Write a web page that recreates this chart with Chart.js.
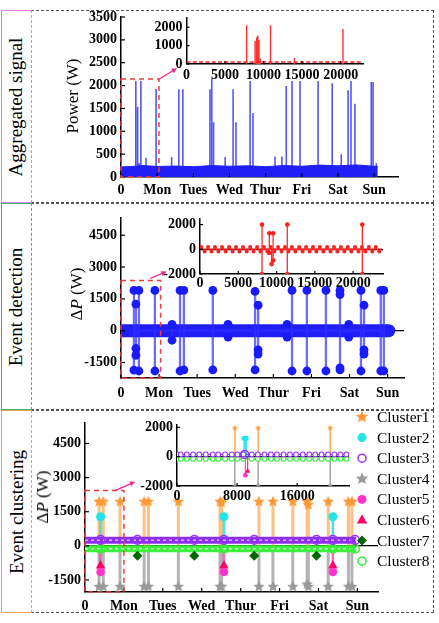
<!DOCTYPE html>
<html>
<head>
<meta charset="utf-8">
<title>Aggregated signal / Event detection / Event clustering</title>
<script src="https://cdn.jsdelivr.net/npm/chart.js@4.4.1/dist/chart.umd.min.js"></script>
<style>
  body { margin: 0; background: #fff; }
  #page { position: relative; width: 439px; height: 623px; overflow: hidden; font-family: "Liberation Serif", "Times New Roman", serif; }
  #page canvas { position: absolute; }
  .panel { position: absolute; left: 31px; width: 403px; box-sizing: border-box; border: 1px dashed #555; }
  .side { position: absolute; left: 1px; width: 31px; box-sizing: border-box; border: 1px solid; border-right-style: dashed; background: #fff; display: flex; align-items: center; justify-content: center; }
  .side span { display: block; transform: rotate(-90deg); white-space: nowrap; font-size: 19px; }
  .yt { position: absolute; transform: translate(-50%, -50%) rotate(-90deg); white-space: nowrap; font-size: 17px; }
</style>
</head>
<body>
<div id="page">
  <div class="panel" style="top:10px;height:193px"></div>
  <div class="panel" style="top:203px;height:207px"></div>
  <div class="panel" style="top:410px;height:203px"></div>
  <div class="side" style="top:10px;height:193px;border-color:#e37ee3"><span>Aggregated signal</span></div>
  <div class="side" style="top:203px;height:207px;border-color:#3cb371"><span>Event detection</span></div>
  <div class="side" style="top:410px;height:203px;border-color:#e8a060"><span>Event clustering</span></div>

  <canvas id="aggMain" width="400" height="197" style="left:32px;top:4px"></canvas>
  <canvas id="aggZoom" width="240" height="80" style="left:130px;top:5px"></canvas>
  <canvas id="detMain" width="400" height="203" style="left:32px;top:205px"></canvas>
  <canvas id="detZoom" width="250" height="84" style="left:140px;top:206px"></canvas>
  <canvas id="cluMain" width="401" height="208" style="left:32px;top:405px"></canvas>
  <canvas id="cluZoom" width="240" height="90" style="left:115px;top:412px"></canvas>

  <div class="yt" style="left:73px;top:96px">Power (W)</div>
  <div class="yt" style="left:77px;top:294px">Δ<i>P</i> (W)</div>
  <div class="yt" style="left:43px;top:497px">Δ<i>P</i> (W)</div>
</div>

<script>
// ---- data ----
const dayLabels = ['0', 'Mon', 'Tues', 'Wed', 'Thur', 'Fri', 'Sat', 'Sun'];
const dayTicks = [0, 1, 2, 3, 4, 5, 6, 7];

// aggregated signal (W), x in days
const aggBandX = [0, 0.3, 0.6, 1.0, 1.5, 2.0, 2.5, 3.0, 3.5, 4.0, 4.5, 5.0, 5.5, 6.0, 6.5, 7.1];
const aggBandY = [220, 230, 250, 230, 240, 225, 250, 235, 245, 225, 250, 235, 260, 245, 265, 230];
const aggSpikeX = [0.41, 0.46, 0.50, 0.55, 0.69, 0.97, 1.40, 1.60, 1.71, 2.46, 2.51, 2.56, 2.88, 3.10, 3.18,
                   3.57, 3.65, 4.26, 4.45, 4.57, 4.73, 4.95, 5.45, 5.84, 6.09, 6.28, 6.36, 6.47, 6.92, 6.97, 7.06];
const aggSpikeY = [2100, 1530, 300, 2100, 420, 1925, 440, 1920, 1920, 1920, 2150, 1200, 440, 1920, 1200,
                   2100, 1400, 450, 450, 1990, 2100, 2100, 2100, 2050, 500, 1900, 2100, 1600, 2080, 2080, 300];
// zoom on the first day, x in samples
const aggZoomBaseX = [0, 22800];
const aggZoomBaseY = [110, 110];
const aggZoomX = [7800, 8900, 9100, 9250, 9400, 9600, 10900, 14000, 20300];
const aggZoomY = [2100, 1250, 1450, 1550, 1300, 300, 2100, 330, 1900];

// event detection (W), x in days
const detBandX = [0, 7.03];
const detBandY = [0, 0];
const detX = [0.34, 0.39, 0.47, 0.89, 1.34, 1.55, 1.65, 2.41, 2.81, 3.52, 3.60, 4.36, 4.49, 4.88, 5.38, 5.75, 5.98, 6.30, 6.38, 6.82, 6.90];
const detV = [[1900, -1860], [1250, -840, -1160], [1900, -1900], [1900, -1900], [300, -450], [1900, -1900], [1900, -1850],
              [1900, -1850], [300, -300], [1850, -1850], [1200, -900, -1100], [300, -300], [1900, -1900], [1900, -1900],
              [1900, -1900], [1900, 1700, -1750, -1850], [300, -300], [1900, -1900], [1200, -900, -1100], [1900, -1900], [1900, -1900]];
const detZoomX = [8100, 9050, 9350, 9550, 11400, 21200];
const detZoomV = [[2000, -2000], [1300, -300], [-1200], [1300, -900], [2000, -2000], [2000, -2000]];
const detZoomOnX = [150, 1050, 1950, 2880, 3800, 4700, 5620, 6550, 7450, 8350, 9250, 10200, 11100, 12000, 12950,
                    13850, 14750, 15650, 16600, 17500, 18400, 19300, 20250, 21150, 22050, 22950];
const detZoomOffX = [600, 1500, 2400, 3350, 4250, 5150, 6100, 7000, 7900, 8800, 9700, 10650, 11550, 12450, 13400,
                     14300, 15200, 16100, 17050, 17950, 18850, 19750, 20700, 21600, 22500, 23400];
const detZoomOnY = 180;
const detZoomOffY = -180;

// event clustering (W), x in days
const clusterNames = ['Cluster1', 'Cluster2', 'Cluster3', 'Cluster4', 'Cluster5', 'Cluster6', 'Cluster7', 'Cluster8'];
const c1X = [0.36, 0.47, 0.90, 1.52, 1.63, 2.40, 3.47, 3.51, 4.47, 4.83, 5.34, 5.71, 5.74, 6.25, 6.77, 6.86];
const c1Y = [1940, 1940, 1940, 1940, 1940, 1940, 1940, 1900, 1940, 1940, 1940, 1940, 1800, 1940, 1940, 1940];
const c4Y = [-1800, -1800, -1800, -1800, -1800, -1800, -1800, -1800, -1800, -1800, -1800, -1700, -1800, -1800, -1800, -1800];
const c2X = [0.40, 3.57, 6.37];
const c2Y = [1280, 1280, 1280];
const c5Y = [-1150, -1150, -1150];
const c6Y = [-880, -880, -880];
const c3X = [0.40, 1.35, 2.81, 3.57, 4.35, 5.95, 6.37, 6.94];
const c3Y = [260, 260, 260, 260, 260, 260, 260, 260];
const c7X = [1.35, 2.81, 4.35, 5.95];
const c7Y = [-440, -440, -440, -440];
const c8X = [0.40, 3.57, 6.37, 6.94];
const c8Y = [-130, -130, -130, -130];
const c3BandX = [0, 6.97], c3BandY = [250, 250];
const c8BandX = [0, 6.97], c8BandY = [-130, -130];
// zoom on the first day, x in samples
const cz1X = [7700, 10800, 20400], cz1Y = [1950, 1950, 1950], cz4Y = [-2000, -2000, -2000];
const cz2X = [8950, 9200], cz2Y = [1250, 1250];
const cz5X = [9100], cz5Y = [-1270];
const cz6X = [9400], cz6Y = [-1000];
const cz3X = [9000], cz3Y = [150];
const czBaseX = [0, 500, 1300, 2150, 2970, 3830, 4750, 5500, 6400, 7300, 8050, 8850, 9950, 10750, 11650, 12500,
                 13300, 14200, 15050, 15850, 16750, 17600, 18400, 19250, 20100, 20950, 21750, 22550];
const czOnY = 150, czOffY = -150;

// ---- helpers ----
const FONT = '"Liberation Serif", "Times New Roman", Times, serif';
Chart.defaults.font.family = FONT;
Chart.defaults.color = '#000';

const COL = { c1: '#ff9933', c2: '#22e5e5', c3: '#9933ff', c4: '#999999', c5: '#ff33cc', c6: '#ff0066', c7: '#006600', c8: '#33ee33' };

function markerPath(ctx, style, x, y, r) {
  ctx.beginPath();
  if (style === 'star') {
    for (let i = 0; i < 10; i++) {
      const a = -Math.PI / 2 + i * Math.PI / 5;
      const rr = i % 2 ? r * 0.45 : r;
      ctx.lineTo(x + rr * Math.cos(a), y + rr * Math.sin(a));
    }
  } else if (style === 'triangle') {
    ctx.moveTo(x, y - r); ctx.lineTo(x + r * 0.95, y + r * 0.65); ctx.lineTo(x - r * 0.95, y + r * 0.65);
  } else if (style === 'diamond') {
    ctx.moveTo(x, y - r); ctx.lineTo(x + r, y); ctx.lineTo(x, y + r); ctx.lineTo(x - r, y);
  } else {
    ctx.arc(x, y, r, 0, Math.PI * 2);
  }
  ctx.closePath();
}

function drawMarker(ctx, style, x, y, r, color, filled) {
  markerPath(ctx, style, x, y, r);
  if (filled) { ctx.fillStyle = color; ctx.fill(); }
  else { ctx.strokeStyle = color; ctx.lineWidth = 1.5; ctx.stroke(); }
}

function starImg(color, r) {
  const c = document.createElement('canvas');
  c.width = c.height = Math.ceil(r * 2 + 2);
  drawMarker(c.getContext('2d'), 'star', c.width / 2, c.height / 2, r, color, true);
  return c;
}

const legendItems = [
  { style: 'star', color: COL.c1, filled: true, r: 6.5 },
  { style: 'circle', color: COL.c2, filled: true, r: 4.5 },
  { style: 'circle', color: COL.c3, filled: false, r: 4 },
  { style: 'star', color: COL.c4, filled: true, r: 6.5 },
  { style: 'circle', color: COL.c5, filled: true, r: 4.5 },
  { style: 'triangle', color: COL.c6, filled: true, r: 5.5 },
  { style: 'diamond', color: COL.c7, filled: true, r: 5 },
  { style: 'circle', color: COL.c8, filled: false, r: 4 }
];

function stemData(xs, ys) {
  const pts = [];
  xs.forEach((x, i) => pts.push({ x, y: 0 }, { x, y: ys[i] }, { x, y: null }));
  return pts;
}
function pointData(xs, ys) {
  return xs.map((x, i) => ({ x, y: Array.isArray(ys) ? ys[i] : ys }));
}
function chainData(xs, vs) {
  const pts = [];
  xs.forEach((x, i) => {
    pts.push({ x, y: 0 });
    vs[i].forEach(v => pts.push({ x, y: v }));
    pts.push({ x, y: 0 });
  });
  return pts;
}

function line(data, color, width, extra) {
  return Object.assign({ data, borderColor: color, borderWidth: width, pointRadius: 0, spanGaps: false, fill: false }, extra || {});
}
function marks(data, style, color, r, filled, extra) {
  return Object.assign({
    data, showLine: false, pointStyle: style, pointRadius: r,
    pointBackgroundColor: filled ? color : 'rgba(0,0,0,0)', pointBorderColor: color, pointBorderWidth: filled ? 0 : 1.5
  }, extra || {});
}

// inward tick marks
const inTicks = {
  id: 'inTicks',
  afterDatasetsDraw(chart, args, o) {
    if (!o.len) return;
    const { ctx, chartArea: a, scales } = chart;
    ctx.save();
    ctx.strokeStyle = '#000';
    ctx.lineWidth = 1.2;
    scales.y.ticks.forEach(t => {
      const y = scales.y.getPixelForValue(t.value);
      ctx.beginPath(); ctx.moveTo(a.left, y); ctx.lineTo(a.left + o.len, y); ctx.stroke();
    });
    scales.x.ticks.forEach(t => {
      const x = scales.x.getPixelForValue(t.value);
      ctx.beginPath(); ctx.moveTo(x, a.bottom); ctx.lineTo(x, a.bottom - o.len); ctx.stroke();
    });
    ctx.restore();
  }
};

// red dashed zoom box + arrow toward the inset
const zoomBox = {
  id: 'zoomBox',
  afterDatasetsDraw(chart, args, o) {
    if (!o.box) return;
    const { ctx, scales: { x, y } } = chart;
    const x0 = x.getPixelForValue(o.box[0]), x1 = x.getPixelForValue(o.box[1]);
    const y0 = y.getPixelForValue(o.box[2]), y1 = y.getPixelForValue(o.box[3]);
    ctx.save();
    ctx.setLineDash([5, 4]);
    ctx.strokeStyle = '#f03c3c';
    ctx.lineWidth = 1.5;
    ctx.strokeRect(x0, y1, x1 - x0, y0 - y1);
    ctx.setLineDash([]);
    const ax = x.getPixelForValue(o.arrow[0]), ay = y.getPixelForValue(o.arrow[1]);
    const bx = x.getPixelForValue(o.arrow[2]), by = y.getPixelForValue(o.arrow[3]);
    const ang = Math.atan2(by - ay, bx - ax);
    ctx.strokeStyle = ctx.fillStyle = '#f0288c';
    ctx.lineWidth = 1.3;
    ctx.beginPath(); ctx.moveTo(ax, ay); ctx.lineTo(bx - 4 * Math.cos(ang), by - 4 * Math.sin(ang)); ctx.stroke();
    ctx.beginPath();
    ctx.moveTo(bx, by);
    ctx.lineTo(bx - 6 * Math.cos(ang - 0.45), by - 6 * Math.sin(ang - 0.45));
    ctx.lineTo(bx - 6 * Math.cos(ang + 0.45), by - 6 * Math.sin(ang + 0.45));
    ctx.closePath(); ctx.fill();
    ctx.restore();
  }
};

// cluster legend, drawn at the right of the clustering chart
const clusterLegend = {
  id: 'clusterLegend',
  afterDraw(chart, args, o) {
    if (!o.on) return;
    const ctx = chart.ctx;
    ctx.save();
    ctx.font = '15.5px ' + FONT;
    ctx.textBaseline = 'middle';
    legendItems.forEach((it, i) => {
      const y = o.top + i * o.step;
      drawMarker(ctx, it.style, o.mx, y, it.r, it.color, it.filled);
      ctx.fillStyle = '#000';
      ctx.fillText(clusterNames[i], o.tx, y + 1);
    });
    ctx.restore();
  }
};

function scaleOpts(o) {
  const tickFont = { family: FONT, size: 14, weight: 'bold' };
  return {
    x: {
      type: 'linear', min: o.x[0], max: o.x[1],
      afterFit: s => { s.height = o.xh; },
      afterBuildTicks: s => { s.ticks = o.xt.map(v => ({ value: v })); },
      ticks: { font: tickFont, color: '#000', padding: o.xpad, maxRotation: 0, autoSkip: false,
               callback: v => (o.xl ? o.xl[v] : String(v)) },
      grid: { display: false, drawTicks: false },
      border: { color: '#000', width: 1.5 }
    },
    y: {
      type: 'linear', min: o.y[0], max: o.y[1],
      afterFit: s => { s.width = o.yw; },
      afterBuildTicks: s => { s.ticks = o.yt.map(v => ({ value: v })); },
      ticks: { font: tickFont, color: '#000', padding: 4, callback: v => String(v) },
      grid: { drawTicks: false, lineWidth: 1.2,
              color: c => (o.zero && c.tick && c.tick.value === 0) ? '#000' : 'rgba(0,0,0,0)' },
      border: { color: '#000', width: 1.5 }
    }
  };
}

function makeChart(id, o, datasets, pluginOpts) {
  return new Chart(document.getElementById(id), {
    type: 'line',
    data: { datasets },
    options: {
      responsive: false,
      animation: false,
      devicePixelRatio: 1,
      layout: { padding: o.pad },
      scales: scaleOpts(o),
      elements: { line: { tension: 0 } },
      events: [],
      plugins: Object.assign({ legend: { display: false }, tooltip: { enabled: false } }, pluginOpts || {})
    },
    plugins: [inTicks, zoomBox, clusterLegend]
  });
}

// ---- panel 1: aggregated signal ----
makeChart('aggMain', {
  x: [0, 7.66], xt: dayTicks, xl: dayLabels, xh: 24, xpad: 5,
  y: [0, 3500], yt: [0, 500, 1000, 1500, 2000, 2500, 3000, 3500], yw: 89,
  pad: { left: 0, right: 34, top: 13, bottom: 0 }
}, [
  line(stemData(aggSpikeX, aggSpikeY), 'rgba(55,55,245,0.85)', 1.6, { order: 2 }),
  line(pointData(aggBandX, aggBandY), '#1f1ff5', 1, { fill: 'origin', backgroundColor: '#1f1ff5', order: 1 })
], { inTicks: { len: 4 }, zoomBox: { box: [0, 1.05, 0, 2145], arrow: [1.06, 2145, 1.55, 2380] } });

makeChart('aggZoom', {
  x: [0, 22900], xt: [0, 5000, 10000, 15000, 20000], xh: 21, xpad: 3,
  y: [0, 2500], yt: [0, 1000, 2000], yw: 56.5,
  pad: { left: 0, right: 7, top: 13, bottom: 0 }
}, [
  line(pointData(aggZoomBaseX, aggZoomBaseY), '#ff2020', 1.6, { borderDash: [4, 2.3] }),
  line(stemData(aggZoomX, aggZoomY), '#ff3030', 1.4)
], { inTicks: { len: 3 } });

// ---- panel 2: event detection ----
makeChart('detMain', {
  x: [0, 7.43], xt: dayTicks, xl: dayLabels, xh: 30, xpad: 7,
  y: [-2230, 5340], yt: [-1500, 0, 1500, 3000, 4500], yw: 89, zero: true,
  pad: { left: 0, right: 28, top: 10, bottom: 0 }
}, [
  line(chainData(detX, detV), 'rgba(45,45,255,0.7)', 2.3, {
    order: 1,
    pointRadius: c => (c.raw && c.raw.y !== 0 ? 4.4 : 0),
    pointBackgroundColor: '#1a1aff', pointBorderWidth: 0
  }),
  line(pointData(detBandX, detBandY), '#1f1ff5', 13, { order: 2, borderCapStyle: 'round' })
], { inTicks: { len: 4 }, zoomBox: { box: [0, 1.04, -2230, 2370], arrow: [0.76, 2460, 1.2, 2790] } });

const detZoomBase = [];
detZoomOnX.forEach(x => detZoomBase.push({ x, y: detZoomOnY }));
detZoomOffX.forEach(x => detZoomBase.push({ x, y: detZoomOffY }));
detZoomBase.sort((a, b) => a.x - b.x);

makeChart('detZoom', {
  x: [0, 23900], xt: [0, 5000, 10000, 15000, 20000], xh: 16, xpad: 1,
  y: [-2000, 2500], yt: [-2000, -1000, 0, 1000, 2000], yw: 60, zero: true,
  pad: { left: 0, right: 7, top: 9, bottom: 0 }
}, [
  line(chainData(detZoomX, detZoomV), '#ff2a2a', 1.3, {
    pointRadius: c => (c.raw && c.raw.y !== 0 ? 2.3 : 0), pointBackgroundColor: '#ff2020', pointBorderWidth: 0
  }),
  line(detZoomBase, '#ff3030', 1, { pointRadius: 2, pointBackgroundColor: '#ff2020', pointBorderWidth: 0 }),
  line(pointData([0, 23800], [0, 0]), '#b01010', 1.5)
], { inTicks: { len: 3 } });

// ---- panel 3: event clustering ----
const star1 = starImg(COL.c1, 6), star4 = starImg(COL.c4, 6);
const star1s = starImg(COL.c1, 3.2), star4s = starImg(COL.c4, 3.2);

makeChart('cluMain', {
  x: [0, 7.53], xt: dayTicks, xl: dayLabels, xh: 21, xpad: 6,
  y: [-2030, 5400], yt: [-1500, 0, 1500, 3000, 4500], yw: 53, zero: true,
  pad: { left: 0, right: 55, top: 18, bottom: 0 }
}, [
  marks(pointData(c1X, c1Y), star1, COL.c1, 6, true, { order: 0 }),
  marks(pointData(c1X, c4Y), star4, COL.c4, 6, true, { order: 0 }),
  marks(pointData(c2X, c2Y), 'circle', COL.c2, 4.5, true, { order: 0 }),
  marks(pointData(c2X, c5Y), 'circle', COL.c5, 4.3, true, { order: 0 }),
  marks(pointData(c2X, c6Y), 'triangle', COL.c6, 5.5, true, { order: 0 }),
  marks(pointData(c7X, c7Y), 'rectRot', COL.c7, 5, true, { order: 0 }),
  marks(pointData(c3X, c3Y), 'circle', COL.c3, 4.3, false, { order: 0 }),
  marks(pointData(c8X, c8Y), 'circle', COL.c8, 4.3, false, { order: 0 }),
  line(pointData(c3BandX, c3BandY), '#d2b0ff', 1.5, { order: 3, borderDash: [3, 3] }),
  line(pointData(c8BandX, c8BandY), '#c4ffc4', 1.5, { order: 3, borderDash: [3, 3] }),
  line(pointData(c3BandX, c3BandY), '#8f2fee', 7, { order: 4 }),
  line(pointData(c8BandX, c8BandY), '#3ef03e', 7, { order: 4 }),
  line(stemData(c2X, c2Y), 'rgba(0,225,225,0.75)', 2.5, { order: 6 }),
  line(stemData(c2X, c5Y), 'rgba(255,40,170,0.7)', 2.5, { order: 6 }),
  line(stemData(c1X, c1Y), 'rgba(255,150,50,0.6)', 3, { order: 8 }),
  line(stemData(c1X, c4Y), 'rgba(140,140,140,0.65)', 3, { order: 8 })
], {
  inTicks: { len: 4 },
  zoomBox: { box: [0, 1.0, -2030, 2430], arrow: [0.77, 2430, 1.29, 2820] },
  clusterLegend: { on: true, mx: 330, tx: 345, top: 12, step: 20.6 }
});

makeChart('cluZoom', {
  x: [0, 22900], xt: [0, 8000, 16000], xh: 16, xpad: 2,
  y: [-2000, 2200], yt: [-2000, -1000, 0, 1000, 2000], yw: 62, zero: true,
  pad: { left: 0, right: 6, top: 8, bottom: 0 }
}, [
  marks(pointData(cz1X, cz1Y), star1s, COL.c1, 3, true, { order: 0 }),
  marks(pointData(cz1X, cz4Y), star4s, COL.c4, 3, true, { order: 0 }),
  marks(pointData(cz2X, cz2Y), 'circle', COL.c2, 2.6, true, { order: 0 }),
  marks(pointData(cz5X, cz5Y), 'circle', COL.c5, 2.4, true, { order: 0 }),
  marks(pointData(cz6X, cz6Y), 'triangle', COL.c6, 3, true, { order: 0 }),
  marks(pointData(cz3X, cz3Y), 'circle', COL.c3, 4, false, { order: 0 }),
  line(pointData(czBaseX, czOnY), COL.c3, 1, {
    order: 2, pointRadius: 2.4, pointStyle: 'circle', pointBorderColor: COL.c3, pointBackgroundColor: '#fff', pointBorderWidth: 1.1 }),
  line(pointData(czBaseX, czOffY), COL.c8, 1, {
    order: 2, pointRadius: 2.4, pointStyle: 'circle', pointBorderColor: COL.c8, pointBackgroundColor: '#fff', pointBorderWidth: 1.1 }),
  line(stemData(cz2X, cz2Y), 'rgba(0,225,225,0.8)', 1.8, { order: 4 }),
  line(stemData(cz5X, cz5Y), 'rgba(255,40,170,0.8)', 1.3, { order: 4 }),
  line(stemData(cz6X, cz6Y), 'rgba(255,0,100,0.8)', 1.3, { order: 4 }),
  line(stemData(cz1X, cz1Y), 'rgba(255,150,50,0.85)', 1.4, { order: 5 }),
  line(stemData(cz1X, cz4Y), 'rgba(140,140,140,0.85)', 1.4, { order: 5 })
], { inTicks: { len: 3 } });
</script>
</body>
</html>
